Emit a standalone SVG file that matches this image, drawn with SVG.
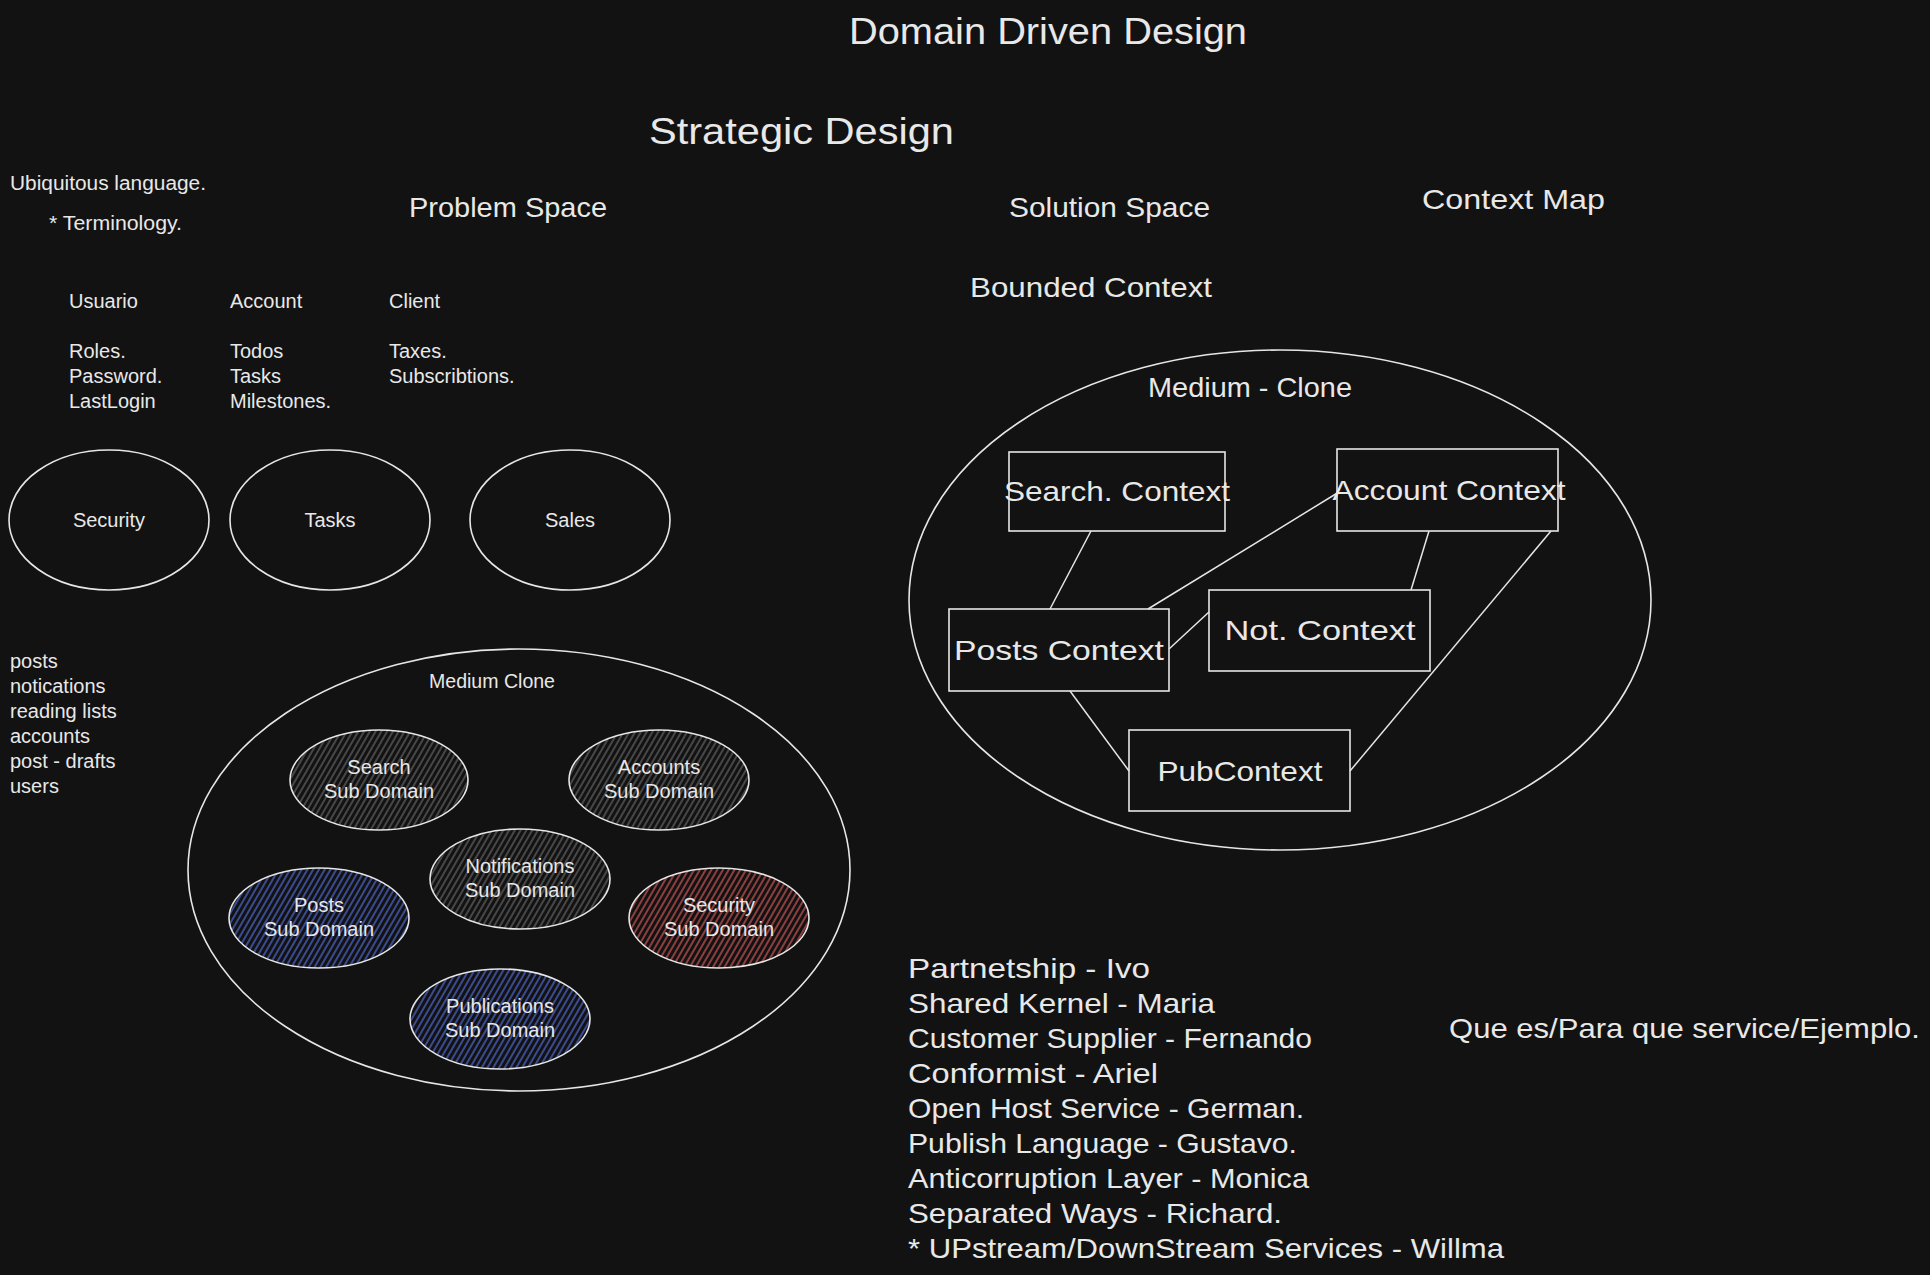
<svg xmlns="http://www.w3.org/2000/svg" width="1930" height="1275" viewBox="0 0 1930 1275">
<style>
  text { font-family: "Liberation Sans", "DejaVu Sans", sans-serif; fill: #e8e8e8; }
  .t20 { font-size: 20px; }
  .t28 { font-size: 28px; }
  .t36 { font-size: 36px; }
  .c { text-anchor: middle; }
  .shape { fill: none; stroke: #e6e6e6; stroke-width: 1.6; }
  .conn line { stroke: #e6e6e6; stroke-width: 1.5; }
</style>
<defs>
  <pattern id="hGray" width="5" height="5" patternUnits="userSpaceOnUse" patternTransform="rotate(30)">
    <line x1="1" y1="0" x2="1" y2="5" stroke="#5e5e5e" stroke-width="1.4"/>
  </pattern>
  <pattern id="hBlue" width="5" height="5" patternUnits="userSpaceOnUse" patternTransform="rotate(30)">
    <line x1="1" y1="0" x2="1" y2="5" stroke="#4d63c4" stroke-width="1.4"/>
  </pattern>
  <pattern id="hRed" width="5" height="5" patternUnits="userSpaceOnUse" patternTransform="rotate(30)">
    <line x1="1" y1="0" x2="1" y2="5" stroke="#c25252" stroke-width="1.4"/>
  </pattern>
</defs>
<rect x="0" y="0" width="1930" height="1275" fill="#121212"/>

<g id="titles">
  <text class="t36" x="849" y="44" textLength="398" lengthAdjust="spacingAndGlyphs">Domain Driven Design</text>
  <text class="t36" x="649" y="144" textLength="305" lengthAdjust="spacingAndGlyphs">Strategic Design</text>
  <text class="t28" x="409" y="217" textLength="198" lengthAdjust="spacingAndGlyphs">Problem Space</text>
  <text class="t28" x="1009" y="217" textLength="201" lengthAdjust="spacingAndGlyphs">Solution Space</text>
  <text class="t28" x="1422" y="209" textLength="183" lengthAdjust="spacingAndGlyphs">Context Map</text>
  <text class="t28" x="970" y="297" textLength="242" lengthAdjust="spacingAndGlyphs">Bounded Context</text>
</g>

<g id="ubiquitous">
  <text class="t20" x="10" y="190" textLength="196" lengthAdjust="spacingAndGlyphs">Ubiquitous language.</text>
  <text class="t20" x="49" y="230" textLength="133" lengthAdjust="spacingAndGlyphs">* Terminology.</text>
</g>

<g id="terms">
  <text class="t20" x="69" y="308">Usuario</text>
  <text class="t20" x="69" y="358">Roles.</text>
  <text class="t20" x="69" y="383">Password.</text>
  <text class="t20" x="69" y="408">LastLogin</text>
  <text class="t20" x="230" y="308">Account</text>
  <text class="t20" x="230" y="358">Todos</text>
  <text class="t20" x="230" y="383">Tasks</text>
  <text class="t20" x="230" y="408">Milestones.</text>
  <text class="t20" x="389" y="308">Client</text>
  <text class="t20" x="389" y="358">Taxes.</text>
  <text class="t20" x="389" y="383">Subscribtions.</text>
</g>

<g id="node-security">
  <ellipse class="shape" cx="109" cy="520" rx="100" ry="70"/>
  <text class="t20 c" x="109" y="527">Security</text>
</g>
<g id="node-tasks">
  <ellipse class="shape" cx="330" cy="520" rx="100" ry="70"/>
  <text class="t20 c" x="330" y="527">Tasks</text>
</g>
<g id="node-sales">
  <ellipse class="shape" cx="570" cy="520" rx="100" ry="70"/>
  <text class="t20 c" x="570" y="527">Sales</text>
</g>

<g id="list">
  <text class="t20" x="10" y="668">posts</text>
  <text class="t20" x="10" y="693">notications</text>
  <text class="t20" x="10" y="718">reading lists</text>
  <text class="t20" x="10" y="743">accounts</text>
  <text class="t20" x="10" y="768">post - drafts</text>
  <text class="t20" x="10" y="793">users</text>
</g>

<g id="medium-clone-domain">
  <ellipse class="shape" cx="519" cy="870" rx="331" ry="221"/>
  <text class="t20 c" x="492" y="688" textLength="126" lengthAdjust="spacingAndGlyphs">Medium Clone</text>
</g>

<g id="sd-search">
  <ellipse class="shape" cx="379" cy="780" rx="89" ry="50" fill="url(#hGray)" style="fill:url(#hGray)"/>
  <text class="t20 c" x="379" y="774">Search</text>
  <text class="t20 c" x="379" y="798">Sub Domain</text>
</g>
<g id="sd-accounts">
  <ellipse class="shape" cx="659" cy="780" rx="90" ry="50" style="fill:url(#hGray)"/>
  <text class="t20 c" x="659" y="774">Accounts</text>
  <text class="t20 c" x="659" y="798">Sub Domain</text>
</g>
<g id="sd-notifications">
  <ellipse class="shape" cx="520" cy="879" rx="90" ry="50" style="fill:url(#hGray)"/>
  <text class="t20 c" x="520" y="873">Notifications</text>
  <text class="t20 c" x="520" y="897">Sub Domain</text>
</g>
<g id="sd-posts">
  <ellipse class="shape" cx="319" cy="918" rx="90" ry="50" style="fill:url(#hBlue)"/>
  <text class="t20 c" x="319" y="912">Posts</text>
  <text class="t20 c" x="319" y="936">Sub Domain</text>
</g>
<g id="sd-security">
  <ellipse class="shape" cx="719" cy="918" rx="90" ry="50" style="fill:url(#hRed)"/>
  <text class="t20 c" x="719" y="912">Security</text>
  <text class="t20 c" x="719" y="936">Sub Domain</text>
</g>
<g id="sd-publications">
  <ellipse class="shape" cx="500" cy="1019" rx="90" ry="50" style="fill:url(#hBlue)"/>
  <text class="t20 c" x="500" y="1013">Publications</text>
  <text class="t20 c" x="500" y="1037">Sub Domain</text>
</g>

<g id="medium-clone-context">
  <ellipse class="shape" cx="1280" cy="600" rx="371" ry="250"/>
  <text class="t28 c" x="1250" y="397" textLength="204" lengthAdjust="spacingAndGlyphs">Medium - Clone</text>
</g>

<g class="conn" id="connectors">
  <line x1="1091" y1="531" x2="1050" y2="609"/>
  <line x1="1148" y1="609" x2="1339" y2="492"/>
  <line x1="1169" y1="649" x2="1209" y2="612"/>
  <line x1="1429" y1="531" x2="1411" y2="590"/>
  <line x1="1551" y1="531" x2="1350" y2="771"/>
  <line x1="1070" y1="691" x2="1129" y2="771"/>
</g>

<g id="ctx-search">
  <rect class="shape" x="1009" y="452" width="216" height="79"/>
  <text class="t28 c" x="1117" y="501" textLength="226" lengthAdjust="spacingAndGlyphs">Search. Context</text>
</g>
<g id="ctx-account">
  <rect class="shape" x="1337" y="449" width="221" height="82"/>
  <text class="t28 c" x="1449" y="500" textLength="233" lengthAdjust="spacingAndGlyphs">Account Context</text>
</g>
<g id="ctx-posts">
  <rect class="shape" x="949" y="609" width="220" height="82"/>
  <text class="t28 c" x="1059" y="660" textLength="210" lengthAdjust="spacingAndGlyphs">Posts Context</text>
</g>
<g id="ctx-not">
  <rect class="shape" x="1209" y="590" width="221" height="81"/>
  <text class="t28 c" x="1320" y="640" textLength="191" lengthAdjust="spacingAndGlyphs">Not. Context</text>
</g>
<g id="ctx-pub">
  <rect class="shape" x="1129" y="730" width="221" height="81"/>
  <text class="t28 c" x="1240" y="781" textLength="165" lengthAdjust="spacingAndGlyphs">PubContext</text>
</g>

<g id="patterns-list">
  <text class="t28" x="908" y="978" textLength="242" lengthAdjust="spacingAndGlyphs">Partnetship - Ivo</text>
  <text class="t28" x="908" y="1013" textLength="307" lengthAdjust="spacingAndGlyphs">Shared Kernel - Maria</text>
  <text class="t28" x="908" y="1048" textLength="404" lengthAdjust="spacingAndGlyphs">Customer Supplier - Fernando</text>
  <text class="t28" x="908" y="1083" textLength="250" lengthAdjust="spacingAndGlyphs">Conformist - Ariel</text>
  <text class="t28" x="908" y="1118" textLength="396" lengthAdjust="spacingAndGlyphs">Open Host Service - German.</text>
  <text class="t28" x="908" y="1153" textLength="389" lengthAdjust="spacingAndGlyphs">Publish Language - Gustavo.</text>
  <text class="t28" x="908" y="1188" textLength="401" lengthAdjust="spacingAndGlyphs">Anticorruption Layer - Monica</text>
  <text class="t28" x="908" y="1223" textLength="374" lengthAdjust="spacingAndGlyphs">Separated Ways - Richard.</text>
  <text class="t28" x="908" y="1258" textLength="596" lengthAdjust="spacingAndGlyphs">* UPstream/DownStream Services - Willma</text>
</g>

<g id="question">
  <text class="t28" x="1449" y="1038" textLength="471" lengthAdjust="spacingAndGlyphs">Que es/Para que service/Ejemplo.</text>
</g>
</svg>
